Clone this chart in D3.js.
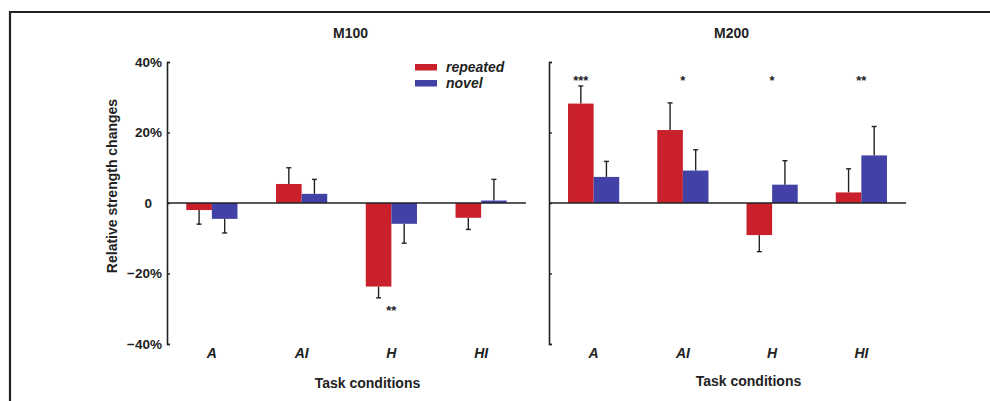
<!DOCTYPE html>
<html>
<head>
<meta charset="utf-8">
<script src="https://cdn.jsdelivr.net/npm/d3@7"></script>
<style>
  html, body { margin: 0; padding: 0; background: #fff; }
  svg { display: block; }
  text { font-family: "Liberation Sans", Arial, sans-serif; font-weight: bold; fill: #222; }
</style>
</head>
<body>
<svg id="chart" width="990" height="401"></svg>
<script>
// ---- data ----
const categories = ["A", "AI", "H", "HI"];
const seriesNames = ["repeated", "novel"];
const seriesColors = ["#c9202b", "#4141a6"];
const tickValues = [-40, -20, 0, 20, 40];
const tickLabels = ["\u221240%", "\u221220%", "0", "20%", "40%"];
const panelTitles = ["M100", "M200"];

const m100Repeated    = [-2.0, 5.4, -23.7, -4.2];
const m100RepeatedErr = [4.0, 4.6, 3.2, 3.3];
const m100Novel       = [-4.5, 2.6, -5.9, 0.7];
const m100NovelErr    = [4.0, 4.1, 5.5, 6.0];

const m200Repeated    = [28.2, 20.7, -9.1, 3.0];
const m200RepeatedErr = [5.0, 7.7, 4.7, 6.7];
const m200Novel       = [7.4, 9.2, 5.2, 13.5];
const m200NovelErr    = [4.4, 5.9, 6.8, 8.2];

// significance markers: [category, label, anchor]
const m100Stars = [["H", "**", "group"]];
const m200Stars = [["A", "***", "repeated"], ["AI", "*", "group"], ["H", "*", "group"], ["HI", "**", "group"]];

// ---- drawing ----
const svg = d3.select("#chart");
const ink = "#222";

// frame (top and left)
svg.append("line").attr("x1", 9).attr("x2", 990).attr("y1", 12).attr("y2", 12)
  .attr("stroke", ink).attr("stroke-width", 2.2);
svg.append("line").attr("x1", 10).attr("x2", 10).attr("y1", 11).attr("y2", 401)
  .attr("stroke", ink).attr("stroke-width", 2.2);

const y = d3.scaleLinear().domain([-40, 40]).range([344, 62]);

const panels = [
  { title: panelTitles[0], x0: 167, x1: 526, rep: m100Repeated, repErr: m100RepeatedErr, nov: m100Novel, novErr: m100NovelErr,
    stars: m100Stars, starVal: -31.7, labels: true, xTitleY: 388 },
  { title: panelTitles[1], x0: 549, x1: 906, rep: m200Repeated, repErr: m200RepeatedErr, nov: m200Novel, novErr: m200NovelErr,
    stars: m200Stars, starVal: 33.6, labels: false, xTitleY: 386 }
];

const barW = 25.6;
const inner = d3.scaleBand().domain(seriesNames).range([-barW, barW]);

panels.forEach((p, pi) => {
  const g = svg.append("g");
  const x = d3.scalePoint().domain(categories).range([p.x0, p.x1]).padding(0.5);
  const mid = (p.x0 + p.x1) / 2;

  // title
  g.append("text").attr("x", mid + 4).attr("y", 38)
    .attr("text-anchor", "middle").attr("font-size", 14).text(p.title);

  // bars
  const vals = [p.rep, p.nov];
  const errs = [p.repErr, p.novErr];
  seriesNames.forEach((s, si) => {
    const data = categories.map((c, i) => ({ c, v: vals[si][i], e: errs[si][i] }));
    // error bars
    const eg = g.append("g").attr("stroke", ink).attr("stroke-width", 1.4);
    data.forEach(d => {
      const cx = x(d.c) + inner(s) + inner.bandwidth() / 2;
      const end = d.v >= 0 ? d.v + d.e : d.v - d.e;
      eg.append("line").attr("x1", cx).attr("x2", cx).attr("y1", y(d.v)).attr("y2", y(end));
      eg.append("line").attr("x1", cx - 2.5).attr("x2", cx + 2.5).attr("y1", y(end)).attr("y2", y(end));
    });
    g.append("g").selectAll("rect").data(data).join("rect")
      .attr("x", d => x(d.c) + inner(s))
      .attr("width", inner.bandwidth())
      .attr("y", d => y(Math.max(0, d.v)))
      .attr("height", d => Math.abs(y(d.v) - y(0)))
      .attr("fill", seriesColors[si]);
  });

  // zero line
  g.append("line").attr("x1", p.x0).attr("x2", p.x1).attr("y1", y(0)).attr("y2", y(0))
    .attr("stroke", ink).attr("stroke-width", 1.6);

  // y axis
  const axis = d3.axisLeft(y).tickValues(tickValues).tickSize(-3).tickPadding(5)
    .tickFormat((d, i) => p.labels ? tickLabels[i] : "");
  const ag = g.append("g").attr("transform", `translate(${p.x0},0)`).call(axis);
  ag.select(".domain").attr("stroke", ink).attr("stroke-width", 1.6);
  ag.selectAll(".tick line").attr("stroke", ink).attr("stroke-width", 1.4);
  ag.selectAll(".tick text").attr("font-size", 13.5).attr("font-family", null).attr("fill", ink)
    .attr("dx", d => d === 0 ? -10 : 0);

  // category labels
  g.append("g").selectAll("text").data(categories).join("text")
    .attr("x", d => x(d)).attr("y", 358).attr("text-anchor", "middle")
    .attr("font-size", 14).attr("font-style", "italic").text(d => d);

  // x title
  g.append("text").attr("x", mid + 21).attr("y", p.xTitleY)
    .attr("text-anchor", "middle").attr("font-size", 14).text("Task conditions");

  // stars
  g.append("g").selectAll("text").data(p.stars).join("text")
    .attr("x", d => d[2] === "group" ? x(d[0]) : x(d[0]) + inner(d[2]) + inner.bandwidth() / 2)
    .attr("y", y(p.starVal)).attr("text-anchor", "middle").attr("font-size", 13)
    .text(d => d[1]);
});

// y-axis title
svg.append("text").attr("transform", "translate(117,186) rotate(-90)")
  .attr("text-anchor", "middle").attr("font-size", 14).text("Relative strength changes");

// legend
const lg = svg.append("g").attr("transform", "translate(415,64)");
seriesNames.forEach((s, i) => {
  lg.append("rect").attr("x", 0).attr("y", i * 16).attr("width", 22).attr("height", 6.5)
    .attr("fill", seriesColors[i]);
  lg.append("text").attr("x", 31).attr("y", i * 16 + 8).attr("font-size", 14)
    .attr("font-style", "italic").text(s);
});
</script>
</body>
</html>
